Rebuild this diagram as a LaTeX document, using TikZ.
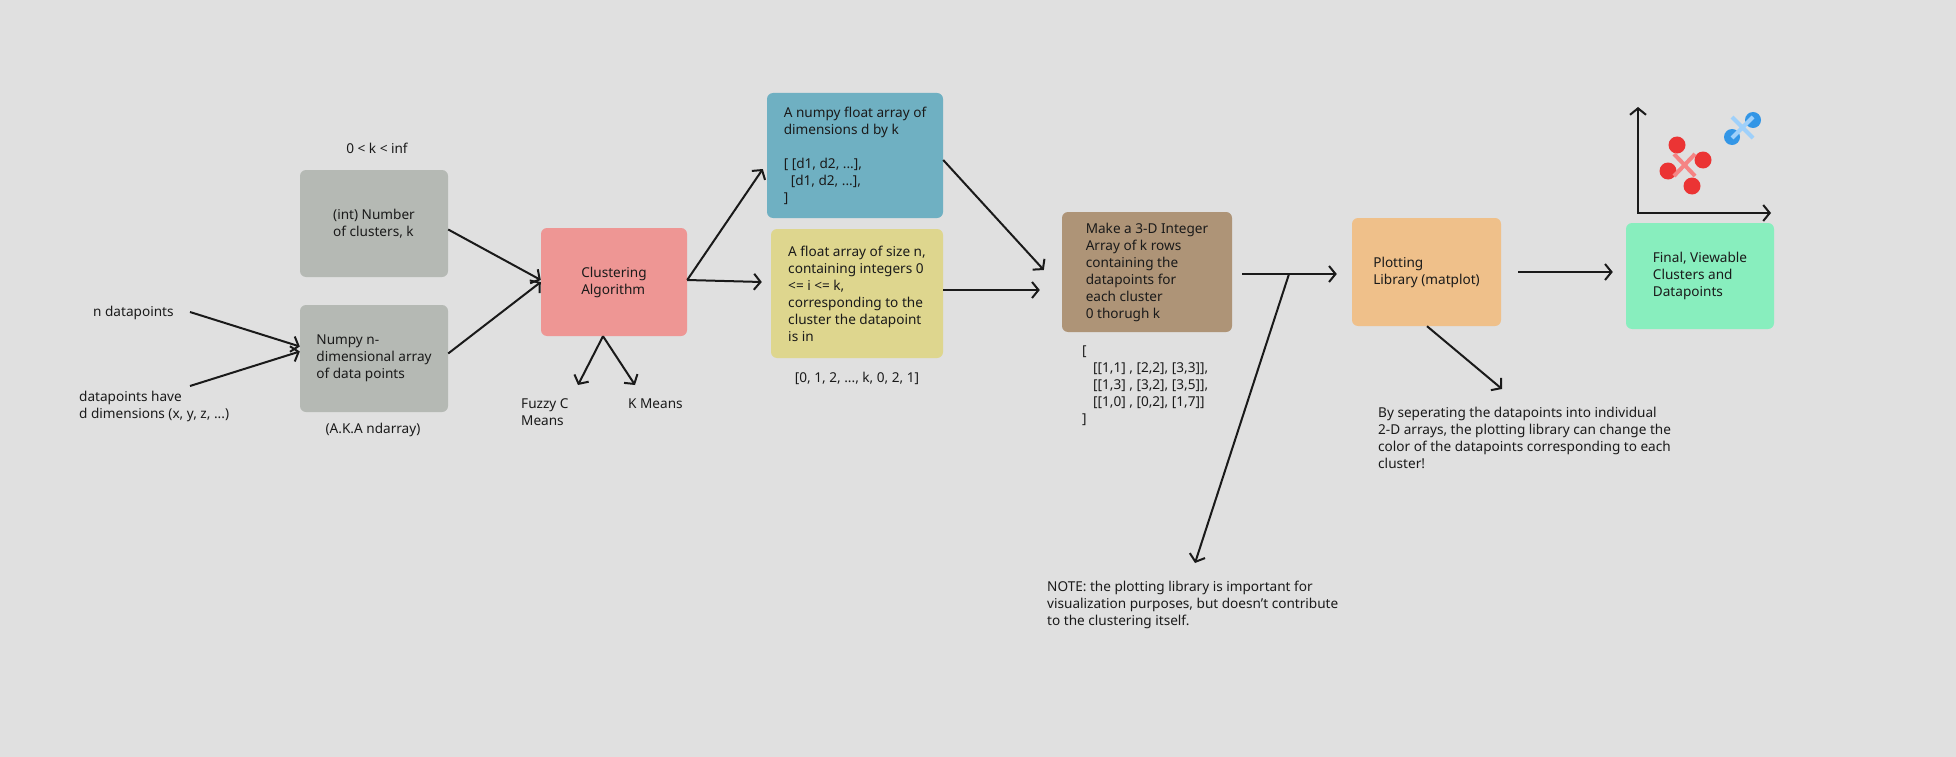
\documentclass[tikz,border=0pt]{standalone}
\usepackage{fontspec}
\setmainfont{Noto Sans}
\usetikzlibrary{arrows.meta,calc}
\definecolor{bg}{HTML}{E0E0E0}
\definecolor{ink}{HTML}{1A1A1A}
\definecolor{greyc}{HTML}{B5B9B4}
\definecolor{pinkc}{HTML}{EE9694}
\definecolor{bluec}{HTML}{6FB0C2}
\definecolor{yelc}{HTML}{DED68E}
\definecolor{brownc}{HTML}{AE9477}
\definecolor{orangec}{HTML}{EFC08A}
\definecolor{greenc}{HTML}{88EEBE}
\definecolor{dotred}{HTML}{EB3434}
\definecolor{xpink}{HTML}{F58484}
\definecolor{dotblue}{HTML}{3396E6}
\definecolor{xblue}{HTML}{9FD0FA}
\begin{document}
\begin{tikzpicture}[x=1pt,y=-1pt,
  every node/.style={font=\fontsize{13.6}{17}\selectfont, text=ink},
  box/.style={rounded corners=6pt, inner sep=0pt, align=left},
  lbl/.style={inner sep=0pt, align=left},
  conn/.style={line width=2pt, draw=ink, -{Straight Barb[length=6.5pt,width=16pt,line width=2pt]}},
  ]
\fill[bg] (0,0) rectangle (1956,757);
\useasboundingbox (0,0) rectangle (1956,757);

% boxes
\node[box, fill=greyc, minimum width=148pt, minimum height=107pt] (k) at (374,223.5) {(int) Number\\of clusters, k};
\node[box, fill=greyc, minimum width=148pt, minimum height=107pt] (nd) at (374,358.5) {Numpy n-\\dimensional array\\of data points};
\node[box, fill=pinkc, minimum width=146pt, minimum height=108pt] (clu) at (614,282) {Clustering\\Algorithm};
\node[box, fill=bluec, minimum width=176pt, minimum height=125pt] (blue) at (855,155.5) {A numpy float array of\\dimensions d by k\\[17pt]{}[ [d1, d2, ...],\\\hspace*{7pt}[d1, d2, ...],\\]};
\node[box, fill=yelc, minimum width=172pt, minimum height=129pt] (yel) at (857,293.5) {A float array of size n,\\containing integers 0\\<= i <= k,\\corresponding to the\\cluster the datapoint\\is in};
\node[box, fill=brownc, minimum width=170pt, minimum height=120pt] (brown) at (1147,272) {Make a 3-D Integer\\Array of k rows\\containing the\\datapoints for\\each cluster\\0 thorugh k};
\node[box, fill=orangec, minimum width=149pt, minimum height=108pt] (plot) at (1426.5,272) {Plotting\\Library (matplot)};
\node[box, fill=greenc, minimum width=148pt, minimum height=106pt] (final) at (1700,276) {Final, Viewable\\Clusters and\\Datapoints};

% free labels
\node[lbl] (krange) at (377,148) {0 < k < inf};
\node[lbl, anchor=west] (ndp) at (93,313) {n datapoints};
\node[lbl, anchor=west] (dims) at (79,406.5) {datapoints have\\d dimensions (x, y, z, ...)};
\node[lbl] (aka) at (373,430) {(A.K.A ndarray)};
\node[lbl, anchor=west] (fuzzy) at (521,412.5) {Fuzzy C\\Means};
\node[lbl, anchor=west] (kmeans) at (628,404) {K Means};
\node[lbl] (labs) at (857,378) {[0, 1, 2, ..., k, 0, 2, 1]};
\node[lbl, anchor=west] (arr) at (1082,386) {[\\\hspace*{11pt}[[1,1] , [2,2], [3,3]],\\\hspace*{11pt}[[1,3] , [3,2], [3,5]],\\\hspace*{11pt}[[1,0] , [0,2], [1,7]]\\]};
\node[lbl, anchor=west] (sep) at (1378,437.5) {By seperating the datapoints into individual\\2-D arrays, the plotting library can change the\\color of the datapoints corresponding to each\\cluster!};
\node[lbl, anchor=west] (note) at (1047,604.5) {NOTE: the plotting library is important for\\visualization purposes, but doesn’t contribute\\to the clustering itself.};

% free ends
\coordinate (a1) at (190,312);
\coordinate (a2) at (190,386);
\coordinate (fz) at (578,385);
\coordinate (km) at (635,385);
\coordinate (br) at (1289,274);
\coordinate (nt) at (1195,563);
\coordinate (sp) at (1502,389);

% connectors
\draw[conn] (a1) -- ([yshift=12pt]nd.west);
\draw[conn] (a2) -- ([yshift=7pt]nd.west);
\draw[conn] ([yshift=-6pt]k.east) -- ([yshift=2pt]clu.west);
\draw[conn] ([yshift=5pt]nd.east) -- (clu.west);
\draw[conn] ([yshift=2pt]clu.east) -- ([xshift=-4pt,yshift=-13.5pt]blue.west);
\draw[conn] ([yshift=2pt]clu.east) -- ([xshift=-9pt,yshift=11.5pt]yel.west);
\draw[conn] ([xshift=-11pt]clu.south) -- (fz);
\draw[conn] ([xshift=-11pt]clu.south) -- (km);
\draw[conn] ([yshift=-4.5pt]blue.east) -- ([xshift=-18pt,yshift=2pt]brown.west);
\draw[conn] ([yshift=3.5pt]yel.east) -- ([xshift=-22pt,yshift=-18pt]brown.west);
\draw[conn] ([xshift=10pt,yshift=-2pt]brown.east) -- ([xshift=-15pt,yshift=-2pt]plot.west);
\draw[conn] (br) -- (nt);
\draw[conn] ([xshift=17pt]plot.east) -- ([xshift=-13pt,yshift=4pt]final.west);
\draw[conn] ([xshift=0.5pt]plot.south) -- (sp);

% scatter plot icon
\coordinate (ytop) at (1638,107);
\coordinate (xend) at (1771,213);
\draw[line width=2pt, ink, {Straight Barb[length=6.5pt,width=16pt,line width=2pt]}-{Straight Barb[length=6.5pt,width=16pt,line width=2pt]}] (ytop) |- (xend);
\fill[dotred] (1677,145) circle[radius=8.5pt];
\fill[dotred] (1703,160) circle[radius=8.5pt];
\fill[dotred] (1668,171) circle[radius=8.5pt];
\fill[dotred] (1692,186) circle[radius=8.5pt];
\draw[xpink, line width=4pt] (1674,154) -- (1695,176) (1674,176) -- (1695,154);
\fill[dotblue] (1732,137) circle[radius=8pt];
\fill[dotblue] (1753,120) circle[radius=8pt];
\draw[xblue, line width=4pt] (1732,117) -- (1753,138) (1732,138) -- (1753,117);
\end{tikzpicture}
\end{document}
